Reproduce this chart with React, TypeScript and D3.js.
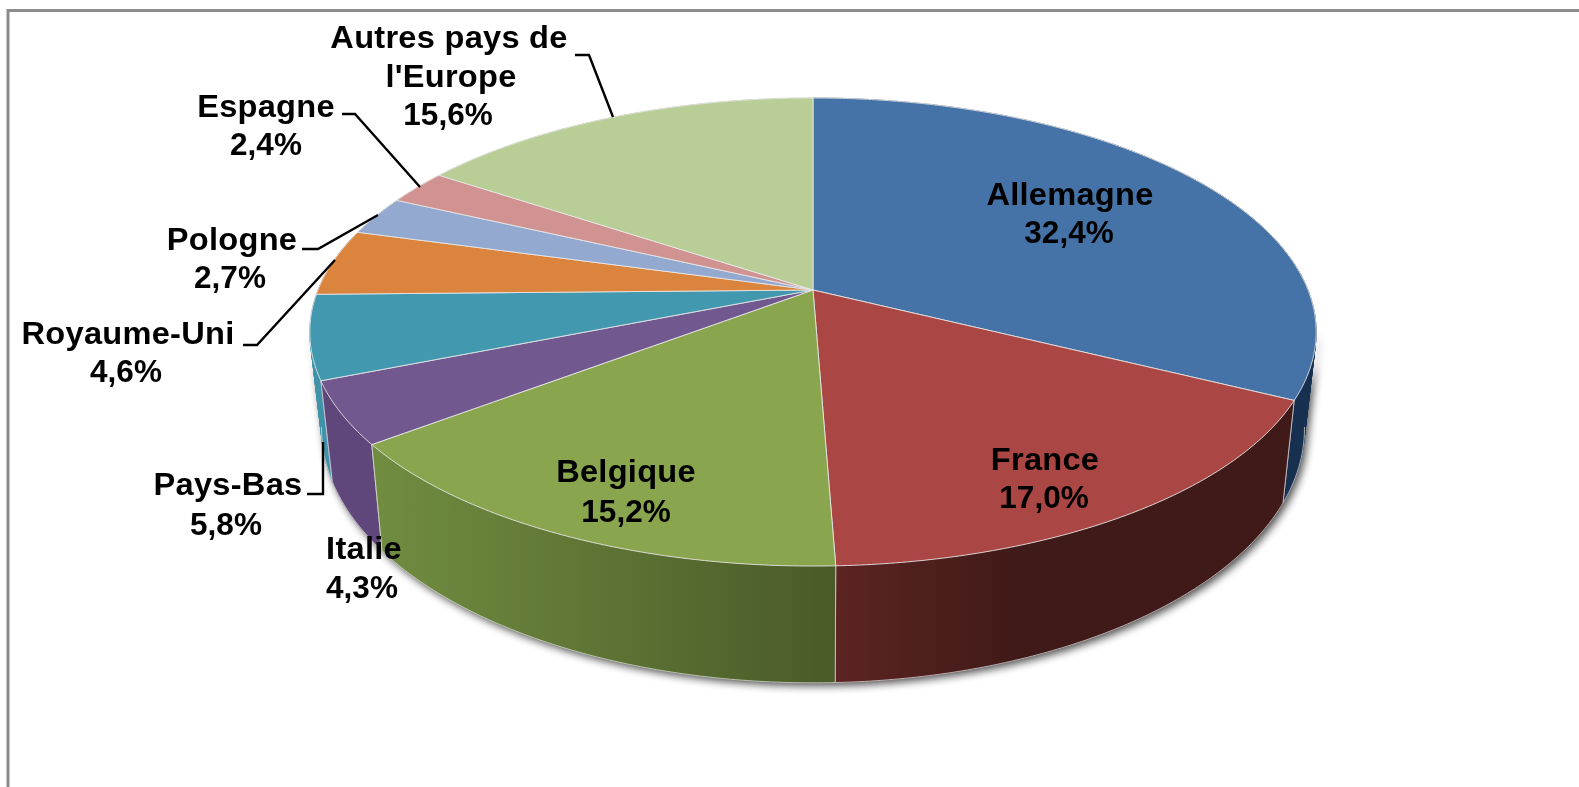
import React from "react";
import * as d3 from "d3";

const categories = ["Allemagne", "France", "Belgique", "Italie", "Pays-Bas", "Royaume-Uni", "Pologne", "Espagne", "Autres pays de l'Europe"];
const shares = [32.4, 17.0, 15.2, 4.3, 5.8, 4.6, 2.7, 2.4, 15.6];
const topColors = ["#4572a7", "#aa4643", "#89a54e", "#71588f", "#4198af", "#db843d", "#93a9cf", "#d19392", "#b9cd96"];
const wallStart = ["#17304f", "#5c2422", "#708c40", "#5f477b", "#3f93a8", "#a8642c", "#7386a6", "#a67270", "#92a474"];
const wallEnd = ["#17304f", "#401a18", "#4a5a28", "#5f477b", "#3f93a8", "#a8642c", "#7386a6", "#a67270", "#92a474"];
const labelLines = [
  ["Allemagne", "32,4%"], ["France", "17,0%"], ["Belgique", "15,2%"], ["Italie", "4,3%"], ["Pays-Bas", "5,8%"],
  ["Royaume-Uni", "4,6%"], ["Pologne", "2,7%"], ["Espagne", "2,4%"], ["Autres pays de", "l'Europe", "15,6%"],
];
const labelX = [[1070, 1069], [1045, 1044], [626, 626], [364, 362], [228, 226], [128, 126], [232, 230], [266, 266], [449, 451, 448]];
const labelY = [[205, 243], [470, 508], [482, 522], [559, 598], [495, 535], [344, 382], [250, 288], [117, 155], [48, 87, 125]];
const leaders: [number, number][][] = [
  [], [], [], [],
  [[323, 442], [323, 494], [307, 494]],
  [[335, 260], [257, 345], [243, 345]],
  [[378, 215], [318, 249], [302, 249]],
  [[342, 114], [355, 114], [420, 187]],
  [[575, 55], [589, 55], [613, 117]],
];

const W = 1579, H = 787;
const cx = 813, cy = 290, k = 0.1795;
const topRim = { a: 495, b: 226.5, y0: cy };
const lowRim = { a: 483.5, b: 246, y0: 383 };
const frontFrom = (100 * Math.PI) / 180;
const frontTo = (260 * Math.PI) / 180;

const project = (rim: typeof topRim, t: number): [number, number] => {
  const X = Math.sin(t), Y = Math.cos(t), w = 1 + k * Y;
  return [cx + (rim.a * X) / w, rim.y0 - (rim.b * Y) / w];
};
const arcPts = (rim: typeof topRim, a0: number, a1: number) => {
  const n = Math.max(2, Math.ceil((a1 - a0) / 0.01));
  return d3.range(n + 1).map((i) => project(rim, a0 + ((a1 - a0) * i) / n));
};
const line = d3.line();
const pie = d3.pie<number>().sort(null).value((d) => d);

// Side wall as a union of ruled strips, all wound the same way so the fill is their union.
const wallPath = (a0: number, a1: number) => {
  const tops = arcPts(topRim, a0, a1);
  const lows = arcPts(lowRim, a0, a1);
  return tops.slice(1).map((p, i) => {
    const quad: [number, number][] = [tops[i], p, lows[i + 1], lows[i]];
    if (d3.polygonArea(quad) < 0) quad.reverse();
    return line(quad) + "Z";
  }).join("");
};

export default function App() {
  const arcs = pie(shares);
  const wallOrder = d3.range(arcs.length).sort((p, q) => {
    const m = (i: number) => Math.abs((arcs[i].startAngle + arcs[i].endAngle) / 2 - Math.PI);
    return m(q) - m(p);
  });
  return (
    <svg width={W} height={H} viewBox={`0 0 ${W} ${H}`} style={{ position: "fixed", left: 0, top: 0, background: "#fff" }}>
      <defs>
        <filter id="sh" x="-10%" y="-10%" width="120%" height="120%"><feGaussianBlur stdDeviation="4.5" /></filter>
        <filter id="soft" x="-5%" y="-30%" width="110%" height="160%"><feGaussianBlur stdDeviation="0.45" /></filter>
        {arcs.map((d, i) => {
          const x0 = project(lowRim, d.startAngle)[0];
          const x1 = project(lowRim, d.endAngle)[0];
          return (
            <linearGradient key={i} id={`w${i}`} gradientUnits="userSpaceOnUse" x1={Math.max(x0, x1)} x2={Math.min(x0, x1)} y1={0} y2={0}>
              <stop offset="0" stopColor={wallEnd[i]} />
              <stop offset={i === 1 ? "0.6" : "1"} stopColor={i === 1 ? wallEnd[i] : wallStart[i]} />
              <stop offset="1" stopColor={wallStart[i]} />
            </linearGradient>
          );
        })}
      </defs>
      <rect x={0} y={0} width={W} height={H} fill="#fff" />
      <path d={`M8,${H}V10.5H${W}`} fill="none" stroke="#8c8c8c" strokeWidth={3} />
      <path d={wallPath(frontFrom, frontTo)} fill="#000" opacity={0.7} filter="url(#sh)" transform="translate(3,3)" />
      {wallOrder.map((i) => {
        const d = arcs[i];
        const edge = (t: number) => line([project(topRim, t), project(lowRim, t)]);
        const r0 = Math.max(d.startAngle, frontFrom), r1 = Math.min(d.endAngle, frontTo);
        return (
          <g key={i}>
            <path d={wallPath(d.startAngle, d.endAngle)} fill={`url(#w${i})`} stroke={`url(#w${i})`} strokeWidth={0.6} />
            {r1 > r0 && <path d={line(arcPts(lowRim, r0, r1)) as string} fill="none" stroke="#e4e4e4" strokeWidth={1} strokeOpacity={0.7} />}
            <path d={`${edge(d.startAngle)}${edge(d.endAngle)}`} fill="none" stroke="#e4e4e4" strokeWidth={1} strokeOpacity={0.75} />
          </g>
        );
      })}
      {arcs.map((d, i) => {
        const pts: [number, number][] = [[cx, cy], ...arcPts(topRim, d.startAngle, d.endAngle)];
        return <path key={i} d={line(pts) + "Z"} fill={topColors[i]} stroke="#e8e8e8" strokeWidth={1} strokeOpacity={0.85} strokeLinejoin="round" />;
      })}
      {leaders.map((l, i) => l.length > 0 && (
        <path key={i} d={line(l) as string} fill="none" stroke="#000" strokeWidth={2.4} />
      ))}
      <g fontFamily="'Liberation Sans', Arial, sans-serif" fontWeight={700} fontSize={31.5} fill="#000" textAnchor="middle" filter="url(#soft)">
        {labelLines.map((ls, i) => ls.map((t, j) => (
          <text key={`${i}-${j}`} transform={`translate(${labelX[i][j]},${labelY[i][j]}) scale(${t.includes("%") ? 1 : 1.035},1)`} letterSpacing={t.includes("%") ? 0 : 0.25}>{t}</text>
        )))}
      </g>
    </svg>
  );
}
